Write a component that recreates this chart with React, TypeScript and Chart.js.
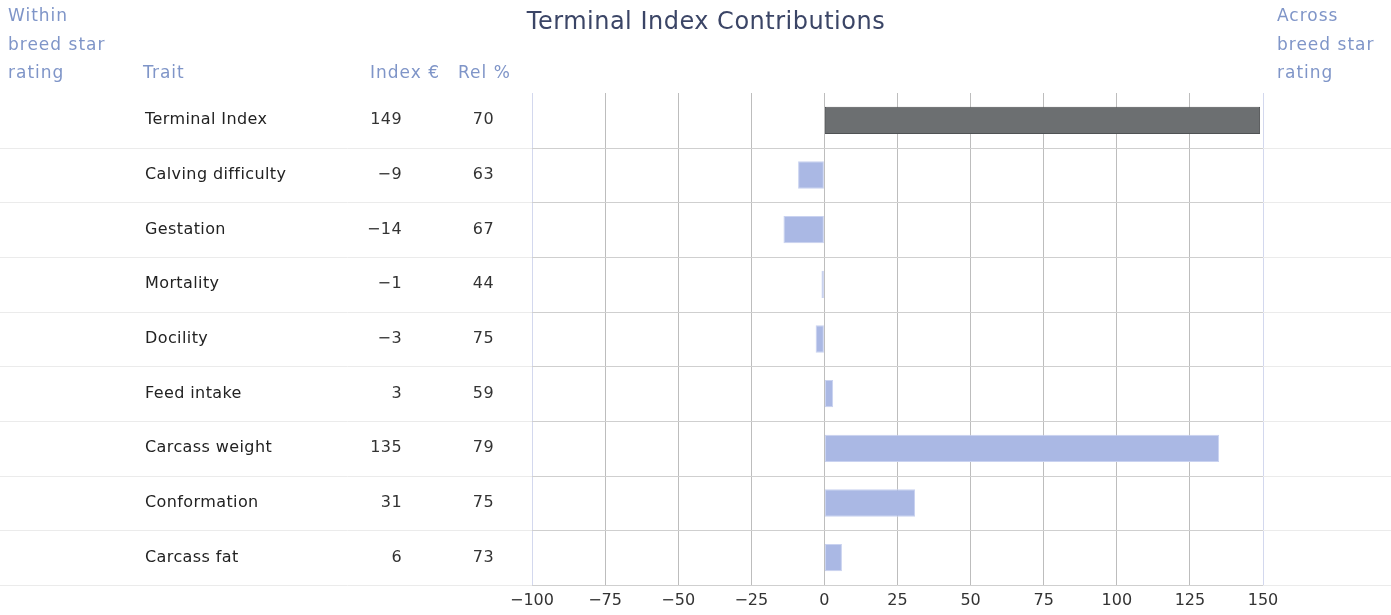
import { useEffect, useRef } from 'react';
import { Chart, registerables } from 'chart.js';

Chart.register(...registerables);

const categories = [
  'Terminal Index',
  'Calving difficulty',
  'Gestation',
  'Mortality',
  'Docility',
  'Feed intake',
  'Carcass weight',
  'Conformation',
  'Carcass fat',
];
const indexValues = [149, -9, -14, -1, -3, 3, 135, 31, 6];
const relValues = [70, 63, 67, 44, 75, 59, 79, 75, 73];
const xMin = -100;
const xMax = 150;
const xStep = 25;

const chartTitle = 'Terminal Index Contributions';
const leftHeader = ['Within', 'breed star', 'rating'];
const rightHeader = ['Across', 'breed star', 'rating'];
const colHeaders = ['Trait', 'Index €', 'Rel %'];

const FONT = '"DejaVu Sans", sans-serif';
const fmt = (v: number) => String(v).replace('-', '\u2212');

const tablePlugin = {
  id: 'tablePlugin',
  beforeDatasetsDraw(chart: any) {
    const { ctx, chartArea, scales } = chart;
    const y = scales.y;
    const step = y.getPixelForValue(1) - y.getPixelForValue(0);
    ctx.save();
    ctx.lineWidth = 1;
    for (let i = 0; i < categories.length; i++) {
      const yb = Math.round(y.getPixelForValue(i) + step / 2) + 0.5;
      ctx.strokeStyle = '#ebebeb';
      ctx.beginPath();
      ctx.moveTo(0, yb);
      ctx.lineTo(chart.width, yb);
      ctx.stroke();
      ctx.strokeStyle = '#cfcfcf';
      ctx.beginPath();
      ctx.moveTo(chartArea.left, yb);
      ctx.lineTo(chartArea.right, yb);
      ctx.stroke();
    }
    ctx.restore();
  },
  afterDraw(chart: any) {
    const { ctx, scales } = chart;
    const y = scales.y;
    ctx.save();
    // title
    ctx.font = `24px ${FONT}`;
    (ctx as any).letterSpacing = '0.5px';
    ctx.fillStyle = '#3b4566';
    ctx.textAlign = 'center';
    ctx.textBaseline = 'alphabetic';
    ctx.fillText(chartTitle, 706, 29);

    // headers
    ctx.font = `17px ${FONT}`;
    (ctx as any).letterSpacing = '1px';
    ctx.fillStyle = '#7f95c8';
    ctx.textAlign = 'left';
    const lineYs = [21, 50, 78];
    leftHeader.forEach((t, i) => ctx.fillText(t, 8, lineYs[i]));
    rightHeader.forEach((t, i) => ctx.fillText(t, 1277, lineYs[i]));
    ctx.fillText(colHeaders[0], 143, 78);
    ctx.fillText(colHeaders[1], 370, 78);
    ctx.fillText(colHeaders[2], 458, 78);

    // rows
    ctx.font = `16px ${FONT}`;
    (ctx as any).letterSpacing = '0.4px';
    ctx.textBaseline = 'middle';
    categories.forEach((c, i) => {
      const py = y.getPixelForValue(i);
      ctx.fillStyle = '#222222';
      ctx.textAlign = 'left';
      ctx.fillText(c, 145, py);
      ctx.fillStyle = '#333333';
      ctx.textAlign = 'right';
      ctx.fillText(fmt(indexValues[i]), 402, py);
      ctx.fillText(String(relValues[i]), 494, py);
    });
    ctx.restore();
  },
};

export default function App() {
  const ref = useRef<HTMLCanvasElement>(null);
  useEffect(() => {
    document.body.style.margin = '0';
    const chart = new Chart(ref.current as HTMLCanvasElement, {
      type: 'bar',
      data: {
        labels: categories,
        datasets: [
          {
            data: indexValues,
            backgroundColor: indexValues.map((_, i) => (i === 0 ? '#6c6f71' : '#aab8e4')),
            borderColor: indexValues.map((_, i) => (i === 0 ? '#4f5254' : '#c9d2f0')),
            borderWidth: 1,
            borderSkipped: false,
            barPercentage: 0.5,
            categoryPercentage: 1,
          },
        ],
      },
      options: {
        indexAxis: 'y',
        responsive: false,
        animation: false,
        devicePixelRatio: 1,
        layout: { padding: { left: 532, right: 128, top: 93, bottom: 0 } },
        plugins: {
          legend: { display: false },
          tooltip: { enabled: false },
          title: { display: false },
        },
        scales: {
          x: {
            type: 'linear',
            min: xMin,
            max: xMax,
            ticks: {
              stepSize: xStep,
              color: '#333333',
              font: { family: FONT, size: 16 },
              padding: 6,
              callback: (v: any) => fmt(Number(v)),
            },
            grid: {
              drawTicks: false,
              color: (c: any) =>
                c.tick && (c.tick.value === xMin || c.tick.value === xMax) ? '#d3d8ee' : '#bdbdbd',
            },
            border: { display: false },
            afterFit: (s: any) => {
              s.height = 30;
            },
          },
          y: {
            type: 'category',
            display: false,
            offset: true,
            grid: { display: false },
          },
        },
      },
      plugins: [tablePlugin],
    } as any);
    return () => chart.destroy();
  }, []);
  return (
    <canvas
      ref={ref}
      width={1391}
      height={615}
      style={{ display: 'block', width: 1391, height: 615 }}
    />
  );
}
